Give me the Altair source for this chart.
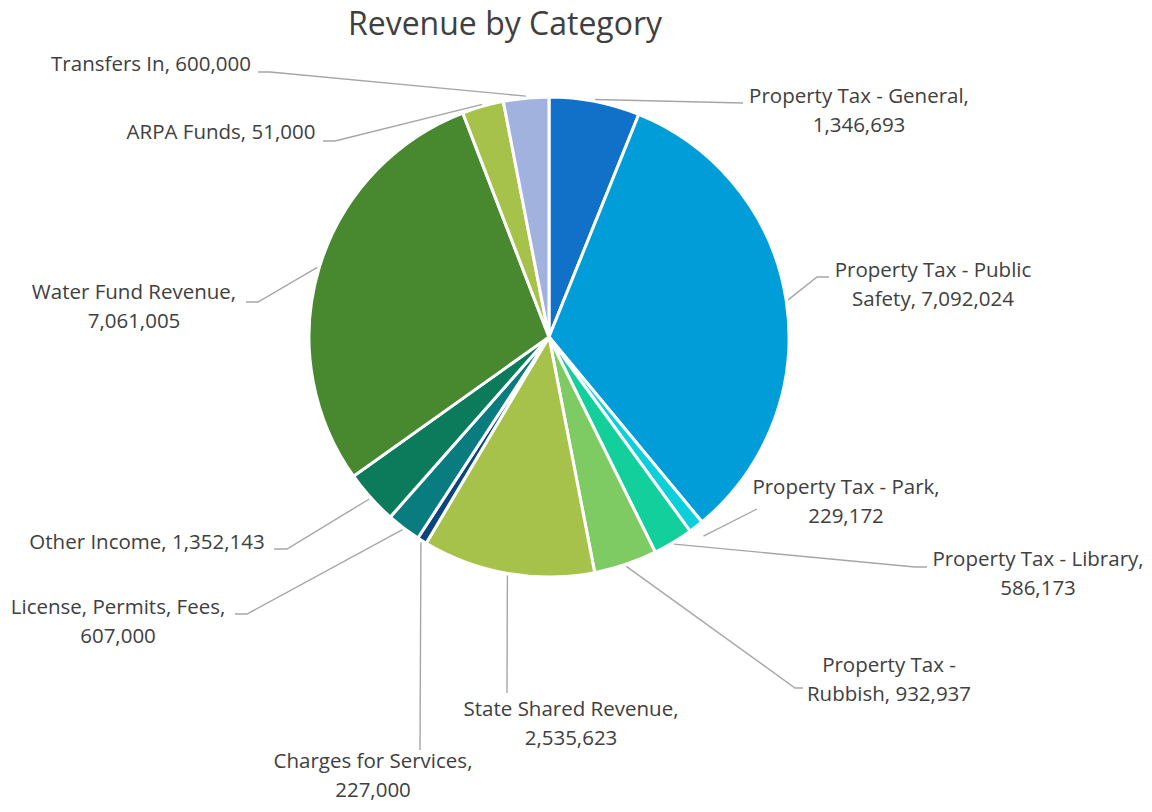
import math
import altair as alt
import pandas as pd

# ---------------- data ----------------
categories = [
    "Property Tax - General", "Property Tax - Public Safety", "Property Tax - Park",
    "Property Tax - Library", "Property Tax - Rubbish", "State Shared Revenue",
    "Charges for Services", "License, Permits, Fees", "Other Income",
    "Water Fund Revenue", "ARPA Funds", "Transfers In",
]
label_values = [1346693, 7092024, 229172, 586173, 932937, 2535623,
                227000, 607000, 1352143, 7061005, 51000, 600000]
# slice sizes as drawn in the reference (percent of the pie)
slice_share = [6.1, 32.9, 1.0, 2.7, 4.25, 11.6, 0.65, 2.3, 3.65, 29.0, 2.8, 3.05]
colors = ["#1170C7", "#009DD9", "#0BCFDA", "#12CF9C", "#7DCB62", "#A7C24A",
          "#0A4580", "#097C80", "#0B7B5B", "#48892F", "#A7C24A", "#A0B2DD"]
title_text = "Revenue by Category"

# ---------------- layout (page pixels) ----------------
W, H = 1136, 796
OX, OY = 8, 8
CX, CY, R = 549, 337, 240
FONT = "Open Sans"
# words on first line (0 = single line), label centre (first line), leader elbow/end points
layout = [
    dict(first=4, lx=859, ly=97, pts=[(743, 103)], r=242),
    dict(first=4, lx=933, ly=271, pts=[(817, 277), (829, 277)], r=242),
    dict(first=4, lx=846, ly=488, pts=[(757, 509)], r=252),
    dict(first=4, lx=1038, ly=560, pts=[(915, 567), (927, 567)], r=242),
    dict(first=3, lx=889, ly=666, pts=[(795, 688), (803, 688)], r=242),
    dict(first=3, lx=571, ly=710, pts=[(507, 693)], r=242),
    dict(first=3, lx=373, ly=762, pts=[(420, 750)], r=242),
    dict(first=3, lx=118, ly=608, pts=[(247, 614), (235, 614)], r=242),
    dict(first=0, lx=147, ly=543, pts=[(287, 549), (274, 549)], r=242),
    dict(first=3, lx=134, ly=293, pts=[(258, 302), (246, 302)], r=242),
    dict(first=0, lx=221, ly=133, pts=[(335, 141), (323, 141)], r=242),
    dict(first=0, lx=151, ly=65, pts=[(270, 72), (258, 72)], r=242),
]

# ---------------- tables ----------------
pie_df = pd.DataFrame({
    "category": categories,
    "share": slice_share,
    "idx": list(range(len(categories))),
})

total = sum(slice_share)
cum = 0.0
line_rows, text_rows = [], []
for i, (cat, val, lay) in enumerate(zip(categories, label_values, layout)):
    mid = (cum + slice_share[i] / 2) / total * 2 * math.pi
    cum += slice_share[i]
    sx = CX + lay["r"] * math.sin(mid)
    sy = CY - lay["r"] * math.cos(mid)
    pts = [(sx, sy)] + lay["pts"]
    for k, (px, py) in enumerate(pts):
        line_rows.append({"category": cat, "seg": k, "px": px - OX, "py": py - OY})
    words = f"{cat}, {val:,}".split(" ")
    if lay["first"]:
        txt = " ".join(words[:lay["first"]]) + "\n" + " ".join(words[lay["first"]:])
    else:
        txt = " ".join(words)
    text_rows.append({"category": cat, "label": txt, "px": lay["lx"] - OX, "py": lay["ly"] - OY})

line_df = pd.DataFrame(line_rows)
text_df = pd.DataFrame(text_rows)
title_df = pd.DataFrame({"label": [title_text], "px": [505 - OX], "py": [35 - OY]})

xs = alt.Scale(domain=[0, W], nice=False, zero=False)
ys = alt.Scale(domain=[0, H], nice=False, zero=False, reverse=True)

pie = alt.Chart(pie_df).mark_arc(
    radius=R, x=CX - OX, y=CY - OY, stroke="white", strokeWidth=3
).encode(
    theta=alt.Theta("share:Q", stack=True),
    color=alt.Color("category:N", scale=alt.Scale(domain=categories, range=colors), legend=None),
    order=alt.Order("idx:Q"),
)

leaders = alt.Chart(line_df).mark_line(color="#A6A6A6", strokeWidth=1.4).encode(
    x=alt.X("px:Q", scale=xs, axis=None),
    y=alt.Y("py:Q", scale=ys, axis=None),
    detail="category:N",
    order=alt.Order("seg:Q"),
)

labels = alt.Chart(text_df).mark_text(
    align="center", baseline="middle", lineBreak="\n", font=FONT,
    fontSize=20.5, lineHeight=29, color="#404040",
).encode(
    x=alt.X("px:Q", scale=xs, axis=None),
    y=alt.Y("py:Q", scale=ys, axis=None),
    text="label:N",
)

title = alt.Chart(title_df).mark_text(
    align="center", baseline="alphabetic", font=FONT, fontSize=32, color="#404040",
).encode(
    x=alt.X("px:Q", scale=xs, axis=None),
    y=alt.Y("py:Q", scale=ys, axis=None),
    text="label:N",
)

chart = alt.layer(pie, leaders, labels, title).properties(
    width=W, height=H, padding=0, autosize=alt.AutoSizeParams(type="none"),
).configure_view(stroke=None)

chart.save("out.html", embed_options={"renderer": "svg", "actions": False})
